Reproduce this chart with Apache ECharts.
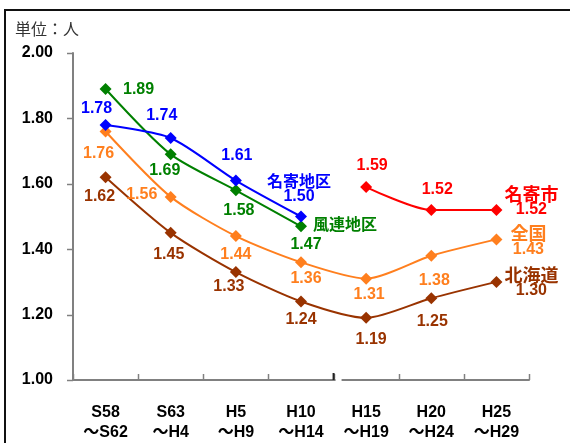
<!DOCTYPE html>
<html>
<head>
<meta charset="utf-8">
<script src="https://cdn.jsdelivr.net/npm/echarts@6/dist/echarts.min.js"></script>
<style>
  html, body { margin: 0; padding: 0; background: #fff; }
  #chart { width: 570px; height: 443px; }
</style>
</head>
<body>
<div id="chart"></div>
<script>
// 合計特殊出生率の推移（5年ごと）
const periods = ['S58\n～S62', 'S63\n～H4', 'H5\n～H9', 'H10\n～H14', 'H15\n～H19', 'H20\n～H24', 'H25\n～H29'];
const yTicks = [1.0, 1.2, 1.4, 1.6, 1.8, 2.0];

const nayoroDistrict = [1.78, 1.74, 1.61, 1.50, null, null, null];
const fureneDistrict = [1.89, 1.69, 1.58, 1.47, null, null, null];
const nayoroCity     = [null, null, null, null, 1.59, 1.52, 1.52];
const japan          = [1.76, 1.56, 1.44, 1.36, 1.31, 1.38, 1.43];
const hokkaido       = [1.62, 1.45, 1.33, 1.24, 1.19, 1.25, 1.30];

const FONT = '"Liberation Sans", Arial, "Noto Sans CJK JP", sans-serif';
const CJK = '"Noto Sans CJK JP", sans-serif';
const AXIS_GREY = '#808080';

// label offsets (dx, dy) from each marker's centre
const offsets = {
  '名寄地区': [[-9, -16], [-9, -22], [1, -25], [-2, -28]],
  '風連地区': [[33, 1], [-6, 16], [3, 20], [5, 18]],
  '名寄市':   [null, null, null, null, [6, -21], [6, -20], [35, -8]],
  '全国':     [[-7, 22], [-29, -2], [0, 18], [5, 16], [3, 16], [3, 25], [32, 2]],
  '北海道':   [[-6, 19], [-2, 22], [-7, 15], [0, 18], [5, 22], [1, 23], [35, 1]]
};
// the series name is written together with the value at these points
const nameAt = { '名寄地区': 3, '名寄市': 6, '全国': 6, '北海道': 6 };

function buildSeries(name, values, color) {
  const data = values.map((v, i) => {
    if (v == null) return null;
    const off = offsets[name][i];
    const withName = nameAt[name] === i;
    return {
      value: v,
      label: {
        show: true,
        position: 'inside',
        offset: off,
        formatter: withName ? '{n|' + name + '}\n{v|' + v.toFixed(2) + '}' : v.toFixed(2),
        rich: withName ? {
          n: { fontFamily: CJK, fontSize: name === '名寄地区' ? 16 : 18, fontWeight: 'bold', color: color, lineHeight: 16, align: 'center' },
          v: { fontFamily: FONT, fontSize: 16, fontWeight: 'bold', color: color, lineHeight: 16, align: 'center' }
        } : undefined
      }
    };
  });
  return {
    name: name,
    type: 'line',
    data: data,
    smooth: 0.25,
    connectNulls: false,
    symbol: 'diamond',
    symbolSize: 12,
    itemStyle: { color: color },
    lineStyle: { color: color, width: 2 },
    label: {
      show: true,
      color: color,
      fontFamily: FONT,
      fontSize: 16,
      fontWeight: 'bold',
      align: 'center',
      verticalAlign: 'middle'
    },
    z: 3
  };
}

const colors = {
  '名寄地区': '#0000FF',
  '風連地区': '#008000',
  '名寄市': '#FF0000',
  '全国': '#FF7F1E',
  '北海道': '#993300'
};

const series = [
  buildSeries('北海道', hokkaido, colors['北海道']),
  buildSeries('全国', japan, colors['全国']),
  buildSeries('名寄市', nayoroCity, colors['名寄市']),
  buildSeries('風連地区', fureneDistrict, colors['風連地区']),
  buildSeries('名寄地区', nayoroDistrict, colors['名寄地区'])
];

// name tag to the right of the last 風連地区 point
series[3].markPoint = {
  symbol: 'circle',
  symbolSize: 1,
  itemStyle: { color: 'rgba(0,0,0,0)' },
  label: {
    show: true,
    position: 'inside',
    offset: [44, -2],
    formatter: '風連地区',
    fontFamily: CJK,
    fontSize: 16,
    fontWeight: 'bold',
    color: colors['風連地区']
  },
  data: [{ coord: [periods[3], fureneDistrict[3]] }]
};

const chart = echarts.init(document.getElementById('chart'), null, { renderer: 'canvas' });

chart.setOption({
  backgroundColor: '#fff',
  animation: false,
  graphic: [
    {
      id: 'frame',
      type: 'rect',
      shape: { x: 5, y: 10, width: 700, height: 600 },
      style: { fill: 'none', stroke: '#111', lineWidth: 2 },
      silent: true
    },
    {
      id: 'unit',
      type: 'text',
      left: 15,
      top: 21,
      style: { text: '単位：人', fontFamily: CJK, fontSize: 16, fontWeight: 'normal', fill: '#333' }
    }
  ],
  grid: { left: 73, right: 41, top: 53, bottom: 57.5 },
  xAxis: {
    type: 'category',
    data: periods,
    boundaryGap: true,
    axisLine: { show: true, lineStyle: { color: AXIS_GREY, width: 2 } },
    axisTick: { show: false },
    axisLabel: {
      color: '#000',
      fontFamily: FONT,
      fontSize: 16,
      fontWeight: 'bold',
      lineHeight: 20,
      margin: 23,
      interval: 0
    }
  },
  yAxis: {
    type: 'value',
    min: yTicks[0],
    max: yTicks[yTicks.length - 1],
    interval: 0.2,
    axisLine: { show: true, lineStyle: { color: AXIS_GREY, width: 2 } },
    axisTick: { show: false },
    splitLine: { show: false },
    axisLabel: {
      color: '#000',
      fontFamily: FONT,
      fontSize: 16,
      fontWeight: 'bold',
      margin: 20,
      formatter: v => v.toFixed(2)
    }
  },
  series: series
});

// tick marks taken from the axis scales: outward on the value axis,
// inward at every category boundary on the period axis
const xPix = periods.map(p => chart.convertToPixel({ xAxisIndex: 0 }, p));
const band = xPix[1] - xPix[0];
const yBase = chart.convertToPixel({ yAxisIndex: 0 }, yTicks[0]);
const xAxisLeft = xPix[0] - band / 2;
const tickStyle = { stroke: AXIS_GREY, lineWidth: 1.5 };
const extra = [];

yTicks.forEach((t, i) => {
  const y = Math.round(chart.convertToPixel({ yAxisIndex: 0 }, t)) + 0.5;
  extra.push({
    id: 'ytick' + i, type: 'line', silent: true, z: 40,
    shape: { x1: xAxisLeft - 6, y1: y, x2: xAxisLeft, y2: y },
    style: tickStyle
  });
});

for (let i = 0; i <= periods.length; i++) {
  const x = Math.round(xAxisLeft + band * i) + 0.5;
  extra.push({
    id: 'xtick' + i, type: 'line', silent: true, z: 40,
    shape: { x1: x, y1: yBase - 6, x2: x, y2: yBase },
    style: tickStyle
  });
}

// break in the period axis between the two survey eras
const mid = (xPix[3] + xPix[4]) / 2;
extra.push({
  id: 'axisGap', type: 'rect', silent: true, z: 50,
  shape: { x: mid + 2, y: yBase - 2, width: 6, height: 4 },
  style: { fill: '#fff', stroke: null }
});
extra.push({
  id: 'axisBreak', type: 'line', silent: true, z: 50,
  shape: { x1: mid, y1: yBase - 7, x2: mid, y2: yBase },
  style: { stroke: '#222', lineWidth: 2 }
});

chart.setOption({ graphic: extra });
</script>
</body>
</html>
